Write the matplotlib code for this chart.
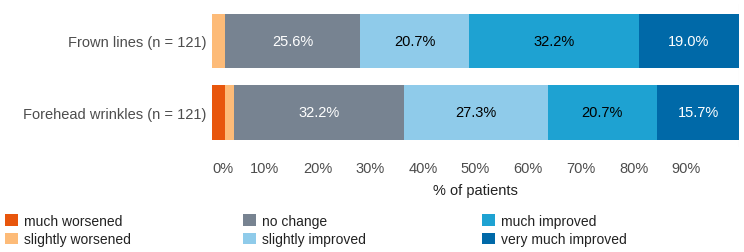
import matplotlib
matplotlib.use("Agg")
import matplotlib.pyplot as plt
from matplotlib.patches import Patch

plt.rcParams['font.family'] = ['Liberation Sans', 'DejaVu Sans']

groups = ['Forehead wrinkles (n = 121)', 'Frown lines (n = 121)']
categories = ['much worsened', 'slightly worsened', 'no change',
              'slightly improved', 'much improved', 'very much improved']
colors = ['#e8560c', '#fdbb78', '#778391', '#8fcbea', '#1ea2d2', '#0069a8']
text_colors = ['white', 'black', 'white', 'black', 'black', 'white']

# percent of patients per category, order matches groups
values = {
    'much worsened':      [2.5, 0.0],
    'slightly worsened':  [1.7, 2.5],
    'no change':          [32.2, 25.6],
    'slightly improved':  [27.3, 20.7],
    'much improved':      [20.7, 32.2],
    'very much improved': [15.7, 19.0],
}
ticks = [0, 10, 20, 30, 40, 50, 60, 70, 80, 90]

W, H = 744, 253
fig = plt.figure(figsize=(W / 100, H / 100), dpi=100)
ax = fig.add_axes([212 / W, 1 - 148 / H, (739 - 212) / W, 143 / H])

left = [0.0, 0.0]
for cat, col, tc in zip(categories, colors, text_colors):
    vals = values[cat]
    ax.barh(range(len(groups)), vals, left=left, height=0.77, color=col, zorder=2)
    for i, v in enumerate(vals):
        if v >= 10:
            ax.text(left[i] + v / 2, i, f'{v:.1f}%', ha='center', va='center',
                    color=tc, fontsize=10.5, zorder=3)
    left = [l + v for l, v in zip(left, vals)]

ax.set_xlim(0, 100)
ax.set_ylim(-0.49, 1.52)
ax.set_yticks(range(len(groups)))
ax.set_yticklabels(groups, fontsize=10.5, color='#4d4d4d')
ax.set_xticks(ticks)
ax.set_xticklabels([f'{t}%' for t in ticks], fontsize=10.5, color='#4d4d4d')
ax.get_xticklabels()[0].set_ha('left')
ax.set_xticks(list(range(0, 101, 10)), minor=True)
ax.grid(axis='x', which='minor', color='#ebebeb', lw=0.8, zorder=0)
ax.grid(axis='y', color='#ebebeb', lw=0.8, zorder=0)
ax.tick_params(length=0, pad=10, which='both')
ax.tick_params(axis='y', pad=4)
for s in ax.spines.values():
    s.set_visible(False)
ax.set_xlabel('% of patients', fontsize=10.5, color='#222222', labelpad=6)

# legend: three columns of two entries
col_x = [5, 243, 482]
for c in range(3):
    hs = [Patch(facecolor=colors[2 * c + r], edgecolor='none') for r in range(2)]
    fig.legend(hs, categories[2 * c:2 * c + 2], loc='upper left',
               bbox_to_anchor=(col_x[c] / W, 1 - 215 / H), frameon=False,
               fontsize=10, handlelength=0.95, handleheight=0.9,
               handletextpad=0.4, labelspacing=0.3, borderpad=0, borderaxespad=0,
               labelcolor='#222222')

fig.savefig('out.png', dpi=100)
